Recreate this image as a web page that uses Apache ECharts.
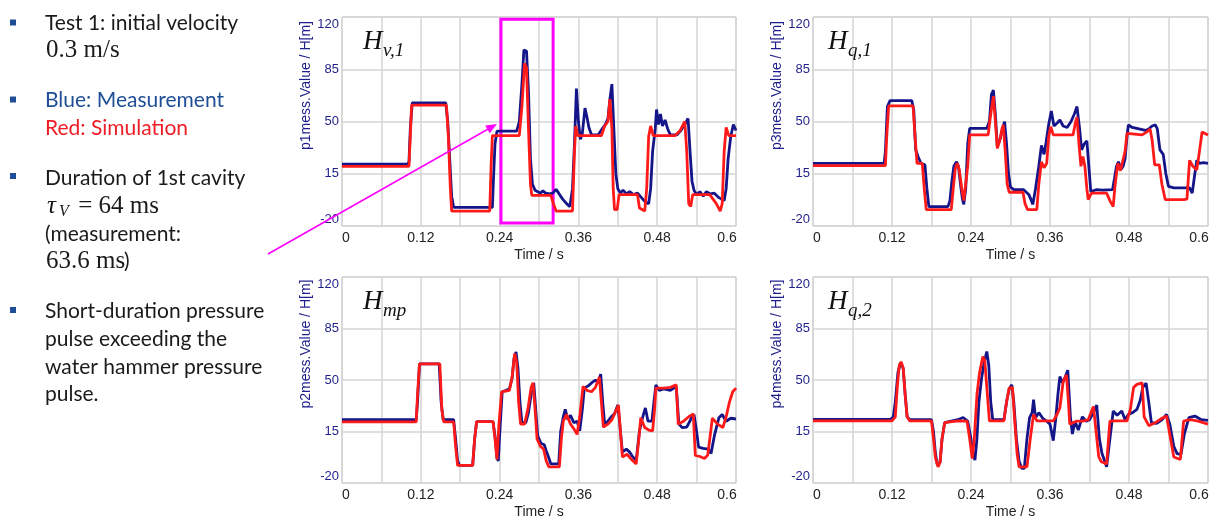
<!DOCTYPE html>
<html>
<head>
<meta charset="utf-8">
<script src="https://cdn.jsdelivr.net/npm/echarts@6/dist/echarts.min.js"></script>
<style>
html,body{margin:0;padding:0;background:#fff}
#main{width:1212px;height:520px}
</style>
</head>
<body>
<div id="main"></div>
<script>
// time / s , head H[m]  -- blue = measurement, red = simulation
let hv1Meas = [[0,21.5],[0.1,21.5],[0.102,23],[0.104,45],[0.107,62.5],[0.158,62.5],[0.161,50],[0.164,25],[0.167,0],[0.17,-7.5],[0.229,-7.5],[0.231,15],[0.233,35],[0.236,43.5],[0.266,43.5],[0.27,50],[0.274,75],[0.277,98],[0.281,97],[0.284,70],[0.287,25],[0.29,8],[0.294,4],[0.298,3],[0.302,2],[0.306,3.5],[0.31,2],[0.316,1.5],[0.321,2],[0.326,4.5],[0.33,2],[0.336,-2],[0.342,-5],[0.347,-7],[0.351,5],[0.354,35],[0.357,72],[0.36,50],[0.363,38],[0.366,42],[0.37,59],[0.373,53],[0.376,46],[0.38,41],[0.39,41],[0.396,45],[0.401,48],[0.405,52],[0.408,65],[0.411,75],[0.414,45],[0.417,15],[0.42,5],[0.424,2],[0.428,4],[0.433,1.5],[0.438,3],[0.444,1],[0.45,2],[0.456,-1],[0.462,-4],[0.467,-5],[0.47,5],[0.473,30],[0.477,45],[0.479,58],[0.482,48],[0.485,55],[0.488,47],[0.492,51],[0.496,45],[0.5,41],[0.51,41],[0.516,44],[0.522,48],[0.527,52],[0.53,30],[0.533,10],[0.536,4],[0.54,1],[0.545,3],[0.55,0],[0.555,3],[0.561,1.5],[0.567,2],[0.574,-1],[0.582,-3],[0.585,5],[0.588,25],[0.592,40],[0.596,48],[0.6,44]];
let hv1Sim = [[0,20],[0.102,20],[0.104,40],[0.106,61],[0.159,61],[0.162,40],[0.165,5],[0.167,-10],[0.225,-10],[0.227,20],[0.229,40.5],[0.27,40.5],[0.274,60],[0.278,89],[0.281,86],[0.284,45],[0.287,8],[0.289,0.5],[0.318,0.5],[0.322,-5],[0.326,-10],[0.351,-10],[0.354,30],[0.356,47],[0.359,40.5],[0.395,40.5],[0.4,47],[0.405,50],[0.408,65],[0.411,45],[0.413,5],[0.415,-9],[0.419,-9],[0.422,1],[0.45,1],[0.453,-8],[0.461,-10],[0.464,5],[0.467,40],[0.47,47],[0.474,40.5],[0.507,40.5],[0.515,44],[0.522,50],[0.525,30],[0.528,-5],[0.531,-7],[0.534,1],[0.56,1],[0.57,-5],[0.576,-10],[0.579,-5],[0.582,30],[0.585,46],[0.589,40.5],[0.6,40.5]];

let hq1Meas = [[0,22],[0.108,22],[0.11,30],[0.113,60],[0.117,64],[0.15,64],[0.153,58],[0.156,31],[0.16,26],[0.164,22],[0.17,21],[0.173,5],[0.176,-7],[0.205,-7],[0.208,-3],[0.211,10],[0.214,20],[0.218,23],[0.221,20],[0.224,8],[0.227,-2],[0.229,-5.5],[0.232,5],[0.235,35],[0.238,45.4],[0.264,45.4],[0.268,50],[0.271,68],[0.274,71],[0.277,55],[0.28,33],[0.284,38],[0.288,45],[0.291,50],[0.294,35],[0.297,15],[0.3,6],[0.305,4.3],[0.32,4.3],[0.328,1],[0.334,-5.5],[0.338,5],[0.343,20],[0.347,34],[0.351,28],[0.354,36],[0.358,48],[0.362,57],[0.366,47],[0.371,49],[0.375,51],[0.38,47],[0.386,46],[0.392,50],[0.397,55],[0.401,60],[0.405,45],[0.408,31],[0.412,35],[0.416,37],[0.419,20],[0.422,3],[0.43,4.3],[0.44,4],[0.455,4.3],[0.458,12],[0.461,20],[0.464,23],[0.468,18],[0.471,20],[0.474,25],[0.477,40],[0.479,47.7],[0.485,46],[0.495,45],[0.505,44],[0.51,45],[0.515,47],[0.52,47.7],[0.523,45],[0.527,31],[0.532,28],[0.536,15],[0.54,6.5],[0.548,5.5],[0.572,5.5],[0.576,2],[0.58,15],[0.583,24],[0.587,22],[0.593,22.5],[0.6,22]];
let hq1Sim = [[0,20.5],[0.11,20.5],[0.112,40],[0.115,60.5],[0.152,60.5],[0.155,40],[0.158,22],[0.166,22],[0.169,5],[0.172,-9],[0.21,-9],[0.213,5],[0.216,18],[0.219,22],[0.222,18],[0.226,5],[0.229,-3],[0.232,-4],[0.235,20],[0.238,41],[0.266,41],[0.27,55],[0.274,67],[0.277,50],[0.28,32],[0.284,38],[0.287,45],[0.289,47.7],[0.292,30],[0.295,8],[0.298,2.6],[0.319,2.6],[0.322,-5],[0.326,-9],[0.34,-9],[0.343,8],[0.347,23],[0.351,19],[0.355,22],[0.358,40],[0.361,46.5],[0.365,41],[0.395,41],[0.399,50],[0.401,53],[0.404,35],[0.407,20],[0.41,26.6],[0.413,20],[0.416,5],[0.418,-2.3],[0.423,2],[0.446,2],[0.451,-3],[0.456,-7],[0.459,8],[0.463,22],[0.467,17],[0.47,16.5],[0.474,30],[0.477,42],[0.48,41],[0.5,41],[0.507,43],[0.512,45],[0.515,38],[0.519,21],[0.526,21],[0.53,8],[0.535,-2.3],[0.563,-2.3],[0.568,-2],[0.572,24],[0.577,20],[0.583,17.6],[0.587,30],[0.591,43],[0.6,41]];

let hmpMeas = [[0,23],[0.113,23],[0.115,35],[0.118,61],[0.148,61],[0.151,35],[0.154,23],[0.17,23],[0.173,10],[0.176,-5],[0.179,-8],[0.199,-8],[0.202,10],[0.205,21.7],[0.23,21.7],[0.233,12],[0.236,-3],[0.238,-5],[0.241,20],[0.244,42],[0.25,43],[0.255,44],[0.259,51],[0.262,65],[0.265,69],[0.268,58],[0.271,35],[0.274,21],[0.28,21],[0.284,28],[0.288,40],[0.292,48],[0.295,30],[0.298,12],[0.303,7],[0.308,6],[0.311,2],[0.315,-3],[0.318,-7],[0.33,-7],[0.333,15],[0.337,25],[0.34,30],[0.344,23],[0.348,26],[0.353,21],[0.358,22],[0.362,15.5],[0.366,30],[0.369,44.5],[0.375,46],[0.38,48],[0.386,50],[0.39,48],[0.394,54],[0.397,35],[0.4,20],[0.405,22],[0.41,25],[0.415,27],[0.42,33],[0.423,20],[0.427,1],[0.433,3],[0.438,1],[0.443,-2.3],[0.448,-5],[0.453,15.5],[0.458,25],[0.462,31],[0.466,22],[0.472,22],[0.475,35],[0.478,46.7],[0.483,43],[0.49,44],[0.5,43],[0.509,45.6],[0.513,20],[0.518,17.7],[0.525,18],[0.532,24],[0.536,26.6],[0.54,15],[0.543,4.4],[0.55,3.5],[0.558,3],[0.562,0],[0.567,12],[0.574,24.4],[0.579,26.6],[0.585,22],[0.592,24],[0.6,23.5]];
let hmpSim = [[0,21.5],[0.113,21.5],[0.115,40],[0.118,61],[0.149,61],[0.152,30],[0.155,21.5],[0.17,21.5],[0.173,5],[0.176,-8],[0.199,-8],[0.202,10],[0.205,21.7],[0.23,21.7],[0.233,10],[0.236,-4],[0.239,20],[0.243,42],[0.255,43],[0.259,52],[0.263,68],[0.266,62],[0.269,35],[0.272,20],[0.278,20],[0.283,30],[0.288,45],[0.291,48],[0.294,30],[0.297,10],[0.302,5],[0.307,3],[0.311,-5],[0.315,-9],[0.331,-9],[0.334,10],[0.337,22],[0.342,26.6],[0.348,20],[0.353,17],[0.358,13],[0.362,25],[0.367,45.6],[0.373,43],[0.38,42],[0.386,45],[0.392,52],[0.395,35],[0.398,18],[0.405,20],[0.411,23],[0.416,28],[0.421,33],[0.424,15],[0.427,-2.3],[0.434,-0.5],[0.441,-4],[0.448,-7],[0.452,10],[0.455,24.4],[0.461,17.7],[0.467,16],[0.473,15.5],[0.476,30],[0.478,44.5],[0.49,44.5],[0.5,45],[0.509,46.7],[0.512,20],[0.52,22],[0.528,25],[0.535,27],[0.538,-1.2],[0.545,-2],[0.552,-3.4],[0.557,-1],[0.564,24],[0.572,20],[0.58,17.7],[0.585,25],[0.59,35],[0.595,42],[0.6,44.5]];

let hq2Meas = [[0,23.3],[0.118,23.3],[0.122,25],[0.125,35],[0.129,55],[0.133,62],[0.137,58],[0.14,40],[0.143,25],[0.147,23],[0.18,23],[0.183,15],[0.186,0],[0.189,-8],[0.193,-6],[0.196,10],[0.2,21],[0.21,22],[0.22,23],[0.228,24.5],[0.235,22],[0.24,10],[0.243,0],[0.246,-4.5],[0.249,10],[0.252,35],[0.256,51],[0.26,62],[0.264,69.4],[0.267,60],[0.27,35],[0.273,23],[0.29,23],[0.294,35],[0.298,44],[0.302,46.7],[0.305,35],[0.309,10],[0.313,-5],[0.317,-10],[0.321,-10],[0.325,10],[0.329,24.4],[0.333,28],[0.335,36.7],[0.338,24.4],[0.343,27.8],[0.349,24],[0.355,22],[0.36,20],[0.365,8.8],[0.369,25],[0.372,40],[0.375,52.3],[0.379,48],[0.383,52],[0.387,56.7],[0.391,25],[0.394,13.3],[0.398,22],[0.403,16],[0.409,25],[0.415,22],[0.42,23],[0.426,28],[0.431,33],[0.435,10],[0.439,0],[0.446,-9],[0.451,10],[0.456,28.9],[0.462,26],[0.469,28.9],[0.474,23],[0.479,26.6],[0.486,28],[0.492,30],[0.497,36],[0.501,45],[0.506,47.8],[0.51,35],[0.514,21],[0.522,20.5],[0.53,23],[0.537,26.6],[0.542,20],[0.548,5],[0.553,0],[0.559,-0.5],[0.564,13.3],[0.571,24.4],[0.58,25.5],[0.59,23],[0.6,22.5]];
let hq2Sim = [[0,22.2],[0.12,22.2],[0.125,25],[0.128,45],[0.131,60],[0.134,62.3],[0.137,58],[0.14,40],[0.143,25],[0.147,22.2],[0.18,22.2],[0.183,10],[0.186,-3],[0.19,-9],[0.193,-6],[0.196,10],[0.2,21],[0.22,22.2],[0.234,22],[0.238,10],[0.242,-3.4],[0.245,10],[0.249,40],[0.253,55],[0.258,66],[0.261,63],[0.264,45],[0.268,22.2],[0.29,22.2],[0.294,35],[0.298,44.5],[0.303,45],[0.306,25],[0.31,0],[0.313,-9],[0.325,-9],[0.33,10],[0.335,26.6],[0.34,22.2],[0.365,22.2],[0.37,26],[0.375,31],[0.38,48.9],[0.385,53.4],[0.388,35],[0.39,20],[0.4,22],[0.41,22],[0.418,23],[0.426,32],[0.43,15],[0.434,-2],[0.438,-5.6],[0.446,-7],[0.451,22],[0.46,22.2],[0.477,22.2],[0.482,30],[0.487,45],[0.492,47],[0.5,48],[0.503,25],[0.51,19],[0.52,21],[0.53,24],[0.537,25.5],[0.542,13],[0.548,-2.3],[0.558,-4],[0.563,22],[0.573,23],[0.585,22],[0.6,20]];

let yNames = ['p1mess.Value / H[m]', 'p3mess.Value / H[m]', 'p2mess.Value / H[m]', 'p4mess.Value / H[m]'];
let panelMeas = [hv1Meas, hq1Meas, hmpMeas, hq2Meas];
let panelSim = [hv1Sim, hq1Sim, hmpSim, hq2Sim];
let highlightBox = [[0.242, 118.5], [0.3215, -18]];

const BLUE = '#15158a', RED = '#ff1a1a', NAVY = '#1e1e8c', MAG = '#ff00ff';
const SANS = '"Liberation Sans", Arial, sans-serif';
const SERIF = '"Liberation Serif", "DejaVu Serif", serif';
const BODY = 'Lato, "Open Sans", sans-serif';

let chart = echarts.init(document.getElementById('main'));

let gridPos = [
    {left: 342, top: 17, width: 394, height: 209},
    {left: 813, top: 17, width: 395, height: 209},
    {left: 342, top: 277, width: 394, height: 209},
    {left: 813, top: 277, width: 395, height: 209}
];

let grids = [], xAxes = [], yAxes = [], series = [];
gridPos.forEach(function (g, i) {
    grids.push(Object.assign({show: true, borderColor: '#c4c4c4', borderWidth: 1}, g));
    xAxes.push({
        gridIndex: i, type: 'value', min: 0, max: 0.6, interval: 0.06,
        name: 'Time / s', nameLocation: 'middle', nameGap: 22,
        nameTextStyle: {color: '#222', fontSize: 14, fontFamily: SANS},
        axisLine: {show: false}, axisTick: {show: false},
        splitLine: {lineStyle: {color: '#d4d4d4', width: 1.5}},
        axisLabel: {
            margin: 5, color: '#222', fontSize: 14, fontFamily: SANS,
            formatter: function (v) {
                let k = Math.round(v / 0.06);
                if (k % 2) return '';
                let s = String(+v.toFixed(2));
                if (k === 0) return '{first|' + s + '}';
                if (k === 10) return '{last|' + s + '}';
                return s;
            },
            rich: {
                first: {padding: [0, 0, 0, 8], color: '#222', fontSize: 14, fontFamily: SANS},
                last: {padding: [0, 18, 0, 0], color: '#222', fontSize: 14, fontFamily: SANS}
            }
        }
    });
    yAxes.push({
        gridIndex: i, type: 'value', min: -20, max: 120, interval: 35,
        name: yNames[i], nameLocation: 'middle', nameGap: 29,
        nameTextStyle: {color: NAVY, fontSize: 14, fontFamily: SANS, padding: [0, 0, 0, 72]},
        axisLine: {show: false}, axisTick: {show: false},
        splitLine: {lineStyle: {color: '#d4d4d4', width: 1.5}},
        axisLabel: {
            margin: 3, color: NAVY, fontSize: 13, fontFamily: SANS,
            formatter: function (v) {
                if (v === 120) return '{top|120}';
                if (v === -20) return '{bot|-20}';
                return String(v);
            },
            rich: {
                top: {padding: [14, 0, 0, 0], color: NAVY, fontSize: 13, fontFamily: SANS},
                bot: {padding: [0, 0, 14, 0], color: NAVY, fontSize: 13, fontFamily: SANS}
            }
        }
    });
    series.push({
        type: 'line', xAxisIndex: i, yAxisIndex: i, data: panelMeas[i],
        showSymbol: false, silent: true, lineStyle: {color: BLUE, width: 2.8}
    });
    let sim = {
        type: 'line', xAxisIndex: i, yAxisIndex: i, data: panelSim[i],
        showSymbol: false, silent: true, lineStyle: {color: RED, width: 2.8}
    };
    if (i === 0) {
        sim.markArea = {
            silent: true,
            itemStyle: {color: 'rgba(0,0,0,0)', borderColor: MAG, borderWidth: 3},
            data: [[{coord: highlightBox[0]}, {coord: highlightBox[1]}]]
        };
    }
    series.push(sim);
});

// panel titles (math)
let titles = [
    {x: 363, y: 42, sub: 'v,1'},
    {x: 828, y: 42, sub: 'q,1'},
    {x: 363, y: 302, sub: 'mp'},
    {x: 828, y: 302, sub: 'q,2'}
];
let graphics = [];
titles.forEach(function (t) {
    graphics.push({type: 'text', x: t.x, y: t.y, z: 50,
        style: {text: 'H', font: 'italic 27px ' + SERIF, fill: '#111', verticalAlign: 'middle'}});
    graphics.push({type: 'text', x: t.x + 20, y: t.y + 9, z: 50,
        style: {text: t.sub, font: 'italic 19px ' + SERIF, fill: '#111', verticalAlign: 'middle'}});
});

// left notes
function txt(x, y, s, font, color) {
    graphics.push({type: 'text', x: x, y: y, z: 50,
        style: {text: s, font: font, fill: color || '#1a1a1a', verticalAlign: 'middle'}});
}
function bullet(y) {
    graphics.push({type: 'rect', z: 50, shape: {x: 10, y: y - 3, width: 6, height: 6}, style: {fill: '#1f4e96'}});
}
let f = '21px ' + BODY, fs = '25px ' + SERIF;
bullet(22.5); bullet(99.5); bullet(176); bullet(310);
txt(45, 23, 'Test 1: initial velocity', f);
txt(46, 50, '0.3 m/s', fs);
txt(45, 100, 'Blue: Measurement', f, '#1f4e96');
txt(45, 128, 'Red: Simulation', f, '#ee1c25');
txt(45, 178, 'Duration of 1st cavity', f);
txt(47, 206, '\u03c4', 'italic 25px ' + SERIF);
txt(59, 212, 'V', 'italic 16px ' + SERIF);
txt(72, 206, ' = 64 ms', fs);
txt(45, 234, '(measurement:', f);
txt(46, 261, '63.6 ms', fs);
txt(124, 261, ')', f);
txt(45, 311, 'Short-duration pressure', f);
txt(45, 339, 'pulse exceeding the', f);
txt(45, 367, 'water hammer pressure', f);
txt(45, 394, 'pulse.', f);

// arrow into the highlighted region
graphics.push({type: 'line', z: 60, shape: {x1: 268, y1: 254, x2: 490, y2: 128}, style: {stroke: MAG, lineWidth: 1.5}});
graphics.push({type: 'polygon', z: 60, shape: {points: [[497, 124], [489.7, 133.3], [485.2, 125.5]]}, style: {fill: MAG}});

chart.setOption({
    animation: false,
    backgroundColor: '#fff',
    grid: grids,
    xAxis: xAxes,
    yAxis: yAxes,
    series: series,
    graphic: graphics
});
</script>
</body>
</html>
